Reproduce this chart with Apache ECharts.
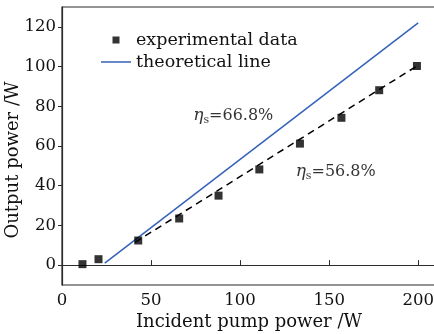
<!DOCTYPE html>
<html>
<head>
<meta charset="utf-8">
<script src="https://cdn.jsdelivr.net/npm/echarts@6/dist/echarts.min.js"></script>
<style>
html, body { margin: 0; padding: 0; background: #fff; }
#J_chart { width: 434px; height: 334px; }
</style>
</head>
<body>
<div id="J_chart"></div>
<script>
// 数据
var expX = [11.5, 20.5, 42.8, 65.8, 87.9, 110.8, 133.6, 156.9, 178.1, 199.3];
var expY = [0.5, 3, 12.4, 23.5, 35, 48.2, 61.2, 74.2, 88.1, 100.3];
var theoryX = [24, 200];
var theoryY = [1, 122];
var fitX = [41, 199.3];
var fitY = [11.5, 100.3];
var annoX = [73.7, 131.2];
var annoY = [75.4, 47.2];
var annoText = ['66.8%', '56.8%'];
var xTicks = [0, 50, 100, 150, 200];
var yTicks = [0, 20, 40, 60, 80, 100, 120];

var FONT = 'DejaVu Serif';
var AXIS_COLOR = '#2b2b2b';
var BLUE = '#3462b8';

function pairs(xs, ys) {
    var out = [];
    for (var i = 0; i < xs.length; i++) {
        out.push([xs[i], ys[i]]);
    }
    return out;
}

var annoData = [];
for (var i = 0; i < annoX.length; i++) {
    annoData.push({ value: [annoX[i], annoY[i]], name: annoText[i] });
}

var chart = echarts.init(document.getElementById('J_chart'), null, { renderer: 'canvas' });

var option = {
    animation: false,
    backgroundColor: '#fff',
    grid: {
        left: 62,
        right: -2,
        top: 7,
        bottom: 49,
        containLabel: false,
        outerBoundsMode: 'none',
        show: true,
        borderColor: AXIS_COLOR,
        borderWidth: 1.2
    },
    legend: {
        data: [
            { name: 'experimental data', icon: 'path://M0,0L10,0L10,10L0,10Z' },
            { name: 'theoretical line', icon: 'path://M0,0L30,0L30,1.5L0,1.5Z', itemStyle: { color: BLUE } }
        ],
        orient: 'vertical',
        left: 96,
        top: 26,
        itemWidth: 30,
        itemHeight: 7,
        itemGap: 4,
        symbolKeepAspect: true,
        textStyle: { fontFamily: FONT, fontSize: 17.5, color: '#111' }
    },
    xAxis: {
        type: 'value',
        min: 0,
        max: 210,
        name: 'Incident pump power /W',
        nameLocation: 'middle',
        nameGap: 28,
        nameMoveOverlap: false,
        nameTextStyle: { fontFamily: FONT, fontSize: 18, color: '#111' },
        axisLine: { lineStyle: { color: AXIS_COLOR, width: 1.2 } },
        axisTick: { inside: true, length: 5, customValues: xTicks, lineStyle: { color: AXIS_COLOR } },
        axisLabel: { customValues: xTicks, margin: 7, fontFamily: FONT, fontSize: 16.5, color: '#111' },
        splitLine: { show: false }
    },
    yAxis: {
        type: 'value',
        min: -10,
        max: 130,
        name: 'Output power /W',
        nameLocation: 'middle',
        nameGap: 40,
        nameMoveOverlap: false,
        nameTextStyle: { fontFamily: FONT, fontSize: 18, color: '#111', padding: [0, 28, 0, 0] },
        axisLine: { lineStyle: { color: AXIS_COLOR, width: 1.2 } },
        axisTick: { inside: false, length: 4, customValues: yTicks, lineStyle: { color: AXIS_COLOR } },
        axisLabel: { customValues: yTicks, margin: 6, fontFamily: FONT, fontSize: 16.5, color: '#111' },
        splitLine: { show: false }
    },
    series: [
        {
            name: 'fit',
            type: 'line',
            data: pairs(fitX, fitY),
            symbol: 'none',
            lineStyle: { color: '#000', width: 1.5, type: [7, 5] },
            z: 2
        },
        {
            name: 'theoretical line',
            type: 'line',
            data: pairs(theoryX, theoryY),
            symbol: 'none',
            itemStyle: { color: BLUE },
            lineStyle: { color: BLUE, width: 1.5 },
            z: 2
        },
        {
            name: 'experimental data',
            type: 'scatter',
            data: pairs(expX, expY),
            symbol: 'rect',
            symbolSize: 8,
            itemStyle: { color: '#000' },
            z: 3
        },
        {
            name: 'annotations',
            type: 'scatter',
            data: annoData,
            symbolSize: 0,
            silent: true,
            label: {
                show: true,
                position: 'right',
                distance: 0,
                formatter: function (p) {
                    return '{eta|η}{sub|s}{txt|=' + p.name + '}';
                },
                rich: {
                    eta: { fontFamily: FONT, fontSize: 17, fontStyle: 'italic', color: '#000' },
                    sub: { fontFamily: FONT, fontSize: 11, color: '#000', padding: [10, 0, 0, 0] },
                    txt: { fontFamily: FONT, fontSize: 16, color: '#000' }
                }
            },
            z: 4
        }
    ]
};

chart.setOption(option);
</script>
</body>
</html>
